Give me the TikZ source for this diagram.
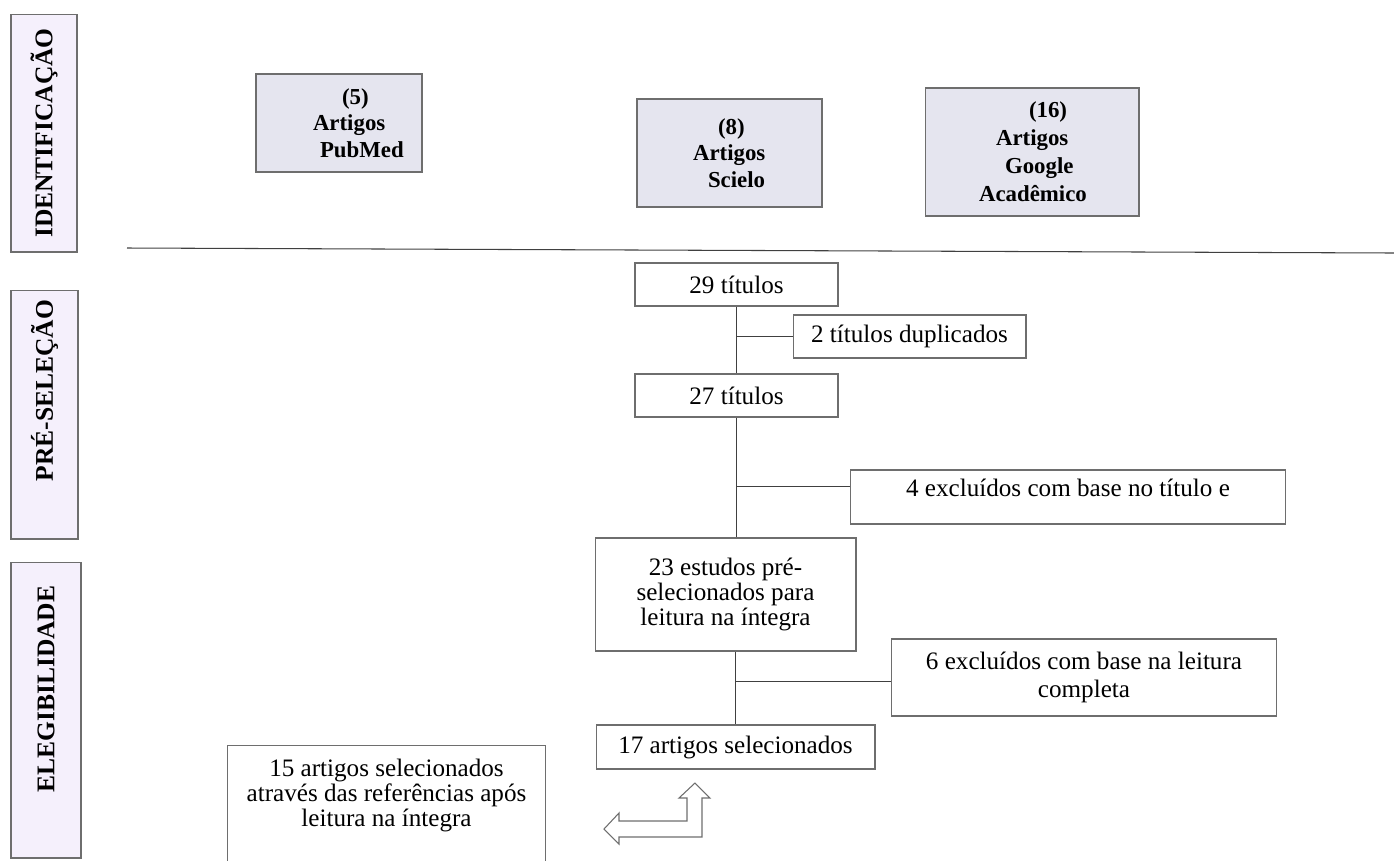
\documentclass[tikz,border=0pt]{standalone}
\usepackage{fontspec}
\setmainfont{Liberation Serif}
\usetikzlibrary{calc}
\definecolor{phasefill}{HTML}{F5F0FC}
\definecolor{srcfill}{HTML}{E5E5EF}
\definecolor{edgegray}{HTML}{6E6E6E}
\tikzset{
  phase/.style={draw=edgegray, fill=phasefill, line width=0.6pt, rotate=90,
    inner sep=0pt, font=\bfseries\fontsize{14.5}{14.5}\selectfont},
  srcbox/.style={draw=edgegray, fill=srcfill, line width=0.6pt, inner xsep=0pt,
    align=left, font=\bfseries\fontsize{13}{15}\selectfont},
  flowbox/.style={draw=edgegray, fill=white, line width=0.6pt, inner sep=0pt,
    align=center, font=\fontsize{14.3}{14}\selectfont},
  link/.style={draw=black!75, line width=0.6pt},
}
\begin{document}
\begin{tikzpicture}[x=0.02cm, y=-0.02cm]
 \useasboundingbox (0,0) rectangle (1394,860);
 \clip (0,0) rectangle (1394,860);
 % phases
 \node[phase, minimum width=4.76cm, minimum height=1.32cm] (ident) at (44,133) {IDENTIFICAÇÃO};
 \node[phase, minimum width=4.98cm, minimum height=1.34cm] (presel) at (44.5,414.5) {\hspace*{0.96cm}PRÉ-SELEÇÃO};
 \node[phase, minimum width=5.92cm, minimum height=1.40cm] (elegib) at (46,710) {\hspace*{0.84cm}ELEGIBILIDADE};
 \coordinate (sepl) at (127,248);
 \coordinate (sepr) at (1394,253);
 \draw[link] (sepl) -- (sepr);
 % sources
 \node[srcbox, text width=3.32cm, minimum height=1.96cm] (pubmed) at (339,123)
   {\hspace*{1.72cm}(5)\\\hspace*{1.14cm}Artigos\\\hspace*{1.28cm}PubMed};
 \node[srcbox, text width=3.70cm, minimum height=2.16cm] (scielo) at (729.5,153)
   {\hspace*{1.62cm}(8)\\\hspace*{1.12cm}Artigos\\\hspace*{1.42cm}Scielo};
 \node[srcbox, text width=4.28cm, minimum height=2.56cm, font=\bfseries\fontsize{13}{16}\selectfont] (google) at (1032,152)
   {\hspace*{2.08cm}(16)\\\hspace*{1.42cm}Artigos\\\hspace*{1.60cm}Google\\\hspace*{1.08cm}Acadêmico};
 % flow
 \node[flowbox, minimum width=4.06cm, minimum height=0.86cm] (tit29) at (736.5,284.5) {29 títulos};
 \node[flowbox, minimum width=4.66cm, minimum height=0.86cm] (dupl) at (909.5,336.5) {2 títulos duplicados};
 \node[flowbox, minimum width=4.06cm, minimum height=0.86cm] (tit27) at (736.5,395.5) {27 títulos};
 \node[flowbox, minimum width=8.72cm, minimum height=1.08cm, text depth=11pt] (excl4) at (1068,497) {4 excluídos com base no título e};
 \node[flowbox, minimum width=5.22cm, minimum height=2.26cm] (est23) at (725.5,594.5)
   {23 estudos pré-\\selecionados para\\leitura na íntegra};
 \node[flowbox, minimum width=7.72cm, minimum height=1.54cm, font=\fontsize{14.3}{15.5}\selectfont] (excl6) at (1084,677.5)
   {6 excluídos com base na leitura\\completa};
 \node[flowbox, minimum width=5.58cm, minimum height=0.88cm] (sel17) at (735.5,747) {17 artigos selecionados};
 \node[flowbox, anchor=north, minimum width=6.38cm, inner ysep=0.28cm, text depth=3cm] (ref15) at (386.5,745)
   {15 artigos selecionados\\através das referências após\\leitura na íntegra};
 %
 \draw[link] (tit29.south) -- (tit27.north);
 \draw[link] (tit29.south |- dupl.west) -- (dupl.west);
 \coordinate (in4) at ($(excl4.north west)!0.31!(excl4.south west)$);
 \draw[link] (tit27.south) -- (tit27.south |- est23.north);
 \draw[link] (tit27.south |- in4) -- (in4);
 \coordinate (in6) at ($(excl6.north west)!0.55!(excl6.south west)$);
 \draw[link] (sel17.north |- est23.south) -- (sel17.north);
 \draw[link] (sel17.north |- in6) -- (in6);
 % turn arrow
 \draw[draw=edgegray, fill=white, line width=0.6pt]
   (604,829) -- (619,813) -- (619,821) -- (687,821) -- (687,798) -- (679,798)
   -- (695,783) -- (710,798) -- (702,798) -- (702,837) -- (619,837) -- (619,844) -- cycle;
\end{tikzpicture}
\end{document}
